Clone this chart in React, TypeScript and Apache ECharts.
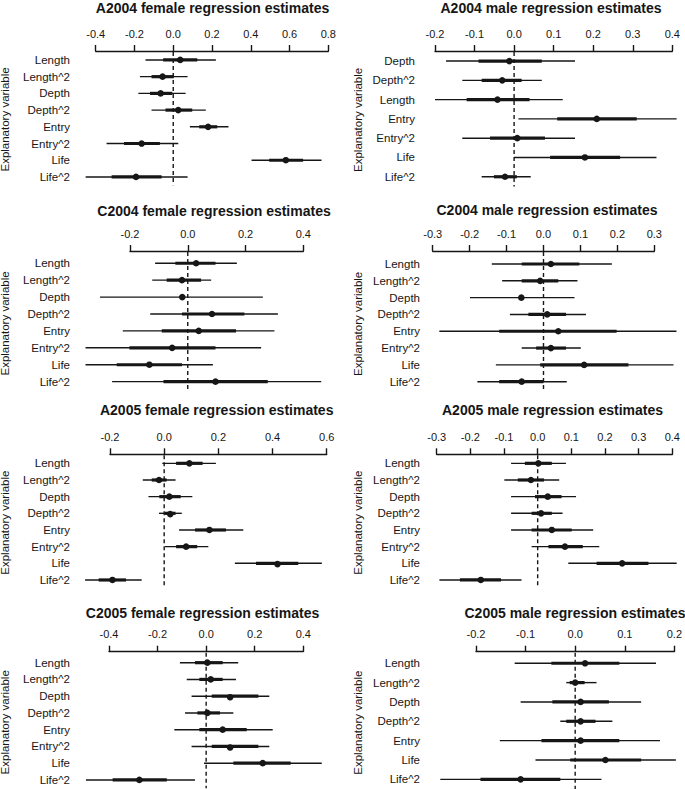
import React, { useEffect, useRef } from "react";
import * as echarts from "echarts";

// Row categories
const rowsStandard = ["Length", "Length^2", "Depth", "Depth^2", "Entry", "Entry^2", "Life", "Life^2"];
const rowsA2004Male = ["Depth", "Depth^2", "Length", "Entry", "Entry^2", "Life", "Life^2"];
const rowsC2005Male = ["Length", "Length^2", "Depth", "Depth^2", "Entry", "Life", "Life^2"];

// Each row: [lo95, lo50, estimate, hi50, hi95]
const a2004Female = [
  [-0.143, -0.052, 0.036, 0.124, 0.22],
  [-0.172, -0.112, -0.055, 0.003, 0.074],
  [-0.18, -0.12, -0.065, -0.005, 0.064],
  [-0.112, -0.04, 0.026, 0.098, 0.168],
  [0.086, 0.134, 0.18, 0.227, 0.285],
  [-0.344, -0.254, -0.163, -0.069, 0.026],
  [0.404, 0.495, 0.581, 0.67, 0.765],
  [-0.452, -0.318, -0.192, -0.06, 0.074],
];
const a2004Male = [
  [-0.172, -0.09, -0.012, 0.07, 0.154],
  [-0.131, -0.082, -0.03, 0.019, 0.07],
  [-0.2, -0.12, -0.042, 0.039, 0.123],
  [0.011, 0.109, 0.209, 0.31, 0.411],
  [-0.131, -0.061, 0.008, 0.078, 0.154],
  [0.0, 0.091, 0.179, 0.268, 0.36],
  [-0.082, -0.051, -0.023, 0.007, 0.042],
];
const c2004Female = [
  [-0.113, -0.043, 0.029, 0.096, 0.17],
  [-0.123, -0.073, -0.02, 0.046, 0.081],
  [-0.304, null, -0.019, null, 0.26],
  [-0.13, -0.02, 0.084, 0.196, 0.312],
  [-0.225, -0.09, 0.038, 0.167, 0.3],
  [-0.354, -0.202, -0.054, 0.096, 0.254],
  [-0.354, -0.246, -0.133, -0.02, 0.087],
  [-0.262, -0.084, 0.096, 0.277, 0.462],
];
const c2004Male = [
  [-0.14, -0.059, 0.02, 0.097, 0.185],
  [-0.112, -0.059, -0.009, 0.04, 0.092],
  [-0.199, null, -0.06, null, 0.084],
  [-0.091, -0.041, 0.01, 0.061, 0.115],
  [-0.282, -0.12, 0.04, 0.198, 0.36],
  [-0.059, -0.02, 0.02, 0.061, 0.101],
  [-0.129, -0.009, 0.11, 0.23, 0.352],
  [-0.179, -0.12, -0.059, 0.0, 0.063],
];
const a2005Female = [
  [-0.007, 0.044, 0.093, 0.142, 0.191],
  [-0.079, -0.046, -0.019, 0.009, 0.042],
  [-0.058, -0.018, 0.019, 0.061, 0.104],
  [-0.019, 0.003, 0.022, 0.042, 0.065],
  [0.055, 0.114, 0.167, 0.228, 0.292],
  [0.003, 0.044, 0.081, 0.122, 0.163],
  [0.261, 0.339, 0.418, 0.495, 0.582],
  [-0.292, -0.242, -0.191, -0.141, -0.083],
];
const a2005Male = [
  [-0.079, -0.038, 0.002, 0.042, 0.084],
  [-0.099, -0.059, -0.02, 0.019, 0.064],
  [-0.079, -0.008, 0.03, 0.071, 0.114],
  [-0.079, -0.018, 0.01, 0.042, 0.074],
  [-0.079, -0.018, 0.042, 0.101, 0.165],
  [-0.018, 0.032, 0.081, 0.134, 0.183],
  [0.091, 0.175, 0.251, 0.329, 0.413],
  [-0.292, -0.231, -0.169, -0.109, -0.048],
];
const c2005Female = [
  [-0.108, -0.046, 0.005, 0.068, 0.132],
  [-0.08, -0.028, 0.019, 0.068, 0.123],
  [-0.06, 0.023, 0.098, 0.215, 0.26],
  [-0.087, -0.036, 0.005, 0.057, 0.112],
  [-0.131, -0.028, 0.068, 0.167, 0.274],
  [-0.06, 0.023, 0.098, 0.215, 0.26],
  [-0.009, 0.112, 0.233, 0.348, 0.476],
  [-0.495, -0.385, -0.275, -0.162, -0.046],
];
const c2005Male = [
  [-0.122, -0.048, 0.02, 0.089, 0.163],
  [-0.018, -0.011, 0.0, 0.019, 0.043],
  [-0.11, -0.046, 0.011, 0.068, 0.133],
  [-0.03, -0.018, 0.011, 0.041, 0.075],
  [-0.152, -0.068, 0.011, 0.089, 0.171],
  [-0.08, -0.01, 0.061, 0.133, 0.203],
  [-0.272, -0.191, -0.11, -0.03, 0.053],
];

const panelTitles = [
  "A2004 female regression estimates",
  "A2004 male regression estimates",
  "C2004 female regression estimates",
  "C2004 male regression estimates",
  "A2005 female regression estimates",
  "A2005 male regression estimates",
  "C2005 female regression estimates",
  "C2005 male regression estimates",
];
const panelRows = [rowsStandard, rowsA2004Male, rowsStandard, rowsStandard, rowsStandard, rowsStandard, rowsStandard, rowsC2005Male];
const panelValues = [a2004Female, a2004Male, c2004Female, c2004Male, a2005Female, a2005Male, c2005Female, c2005Male];
// Tick range: [min, max, step]
const panelTicks = [
  [-0.4, 0.8, 0.2],
  [-0.2, 0.4, 0.1],
  [-0.2, 0.4, 0.2],
  [-0.3, 0.3, 0.1],
  [-0.2, 0.6, 0.2],
  [-0.3, 0.4, 0.1],
  [-0.4, 0.4, 0.2],
  [-0.2, 0.2, 0.1],
];
const yAxisName = "Explanatory variable";

// Layout (pixels)
const layouts = [
  { left: 95.7, width: 232.6, top: 51.6, height: 133.7, offset: 0.6, labelMargin: 25.7, tx: 212.5, ty: 7.7, nx: 5 },
  { left: 435, width: 237.3, top: 51.4, height: 135, offset: 0.4, labelMargin: 20, tx: 551, ty: 8.3, nx: 358 },
  { left: 130, width: 173.3, top: 254.8, height: 135.3, offset: 3.8, labelMargin: 60, tx: 214, ty: 210.5, nx: 5 },
  { left: 432.7, width: 221.6, top: 255.6, height: 134.5, offset: 4.6, labelMargin: 12.7, tx: 547, ty: 210, nx: 358 },
  { left: 110, width: 216.7, top: 455, height: 133.3, offset: 0.7, labelMargin: 40, tx: 216.7, ty: 410.3, nx: 5 },
  { left: 436.7, width: 235.6, top: 455, height: 133.3, offset: 0.7, labelMargin: 16.7, tx: 552.5, ty: 410, nx: 358 },
  { left: 109, width: 194.3, top: 654.3, height: 134, offset: 2.6, labelMargin: 39, tx: 202.5, ty: 612.5, nx: 5 },
  { left: 476, width: 199, top: 653.6, height: 136.1, offset: 1.9, labelMargin: 56, tx: 575, ty: 612.5, nx: 358 },
];

const INK = "#161616";
const FONT = "'Liberation Sans', Arial, Helvetica, sans-serif";

function fmtTick(v: number) {
  if (Math.abs(v) < 1e-9) return "0.0";
  return v.toFixed(1);
}

function renderInterval(params: any, api: any) {
  const row = api.value(0);
  const lo95 = api.value(1);
  const lo50 = api.value(2);
  const est = api.value(3);
  const hi50 = api.value(4);
  const hi95 = api.value(5);
  const children: any[] = [];
  const a = api.coord([lo95, row]);
  const b = api.coord([hi95, row]);
  children.push({
    type: "line",
    shape: { x1: a[0], y1: a[1], x2: b[0], y2: b[1] },
    style: { stroke: INK, lineWidth: 1.4 },
  });
  if (isFinite(lo50) && isFinite(hi50)) {
    const c = api.coord([lo50, row]);
    const d = api.coord([hi50, row]);
    children.push({
      type: "line",
      shape: { x1: c[0], y1: c[1], x2: d[0], y2: d[1] },
      style: { stroke: INK, lineWidth: 3.2 },
    });
  }
  const p = api.coord([est, row]);
  children.push({
    type: "circle",
    shape: { cx: p[0], cy: p[1], r: 3.3 },
    style: { fill: INK },
  });
  return { type: "group", children };
}

function makeZeroLine(offset: number) {
  return function (params: any, api: any) {
    const cs = params.coordSys;
    const p = api.coord([api.value(0), 0]);
    return {
      type: "line",
      shape: { x1: p[0], y1: cs.y - offset + 1, x2: p[0], y2: cs.y + cs.height },
      style: { stroke: INK, lineWidth: 1.4, lineDash: [4, 3] },
    };
  };
}

export default function App() {
  const ref = useRef<HTMLDivElement>(null);
  useEffect(() => {
    if (!ref.current) return;
    const chart = echarts.init(ref.current, null, { renderer: "svg" });
    const grid: any[] = [];
    const xAxis: any[] = [];
    const yAxis: any[] = [];
    const series: any[] = [];
    const elements: any[] = [];
    panelTitles.forEach((title, i) => {
      const L = layouts[i];
      const [tmin, tmax, step] = panelTicks[i];
      grid.push({ left: L.left, top: L.top, width: L.width, height: L.height });
      xAxis.push({
        type: "value",
        gridIndex: i,
        position: "top",
        min: tmin,
        max: tmax,
        interval: step,
        offset: L.offset,
        axisLine: { show: true, onZero: false, lineStyle: { color: INK, width: 1.4 } },
        axisTick: { show: true, inside: false, length: 6, lineStyle: { color: INK, width: 1.4 } },
        axisLabel: { margin: 12, fontSize: 11, color: INK, fontFamily: FONT, formatter: fmtTick },
        splitLine: { show: false },
      });
      yAxis.push({
        type: "category",
        gridIndex: i,
        data: panelRows[i],
        inverse: true,
        axisLine: { show: false },
        axisTick: { show: false },
        splitLine: { show: false },
        axisLabel: { margin: L.labelMargin, fontSize: 11.5, color: INK, fontFamily: FONT, interval: 0 },
      });
      series.push({
        type: "custom",
        xAxisIndex: i,
        yAxisIndex: i,
        clip: false,
        silent: true,
        z: 1,
        data: [[0, 0]],
        encode: { x: 0, y: 1 },
        renderItem: makeZeroLine(L.offset),
      });
      series.push({
        type: "custom",
        xAxisIndex: i,
        yAxisIndex: i,
        clip: false,
        silent: true,
        z: 2,
        data: panelValues[i].map((v, r) => [r, ...v]),
        encode: { x: [1, 2, 3, 4, 5], y: 0 },
        renderItem: renderInterval,
      });
      elements.push({
        type: "text",
        x: L.tx,
        y: L.ty,
        style: {
          text: title,
          fontSize: 14,
          fontWeight: "bold",
          fontFamily: FONT,
          fill: INK,
          align: "center",
          verticalAlign: "middle",
        },
      });
      elements.push({
        type: "text",
        x: L.nx,
        y: L.top + L.height / 2 + 1,
        rotation: Math.PI / 2,
        style: {
          text: yAxisName,
          fontSize: 11.5,
          fontFamily: FONT,
          fill: INK,
          align: "center",
          verticalAlign: "middle",
        },
      });
    });
    chart.setOption({
      animation: false,
      backgroundColor: "#ffffff",
      grid,
      xAxis,
      yAxis,
      series,
      graphic: { elements },
    });
    return () => chart.dispose();
  }, []);
  return (
    <div
      ref={ref}
      style={{ position: "absolute", left: 0, top: 0, width: 685, height: 789, background: "#fff" }}
    />
  );
}
